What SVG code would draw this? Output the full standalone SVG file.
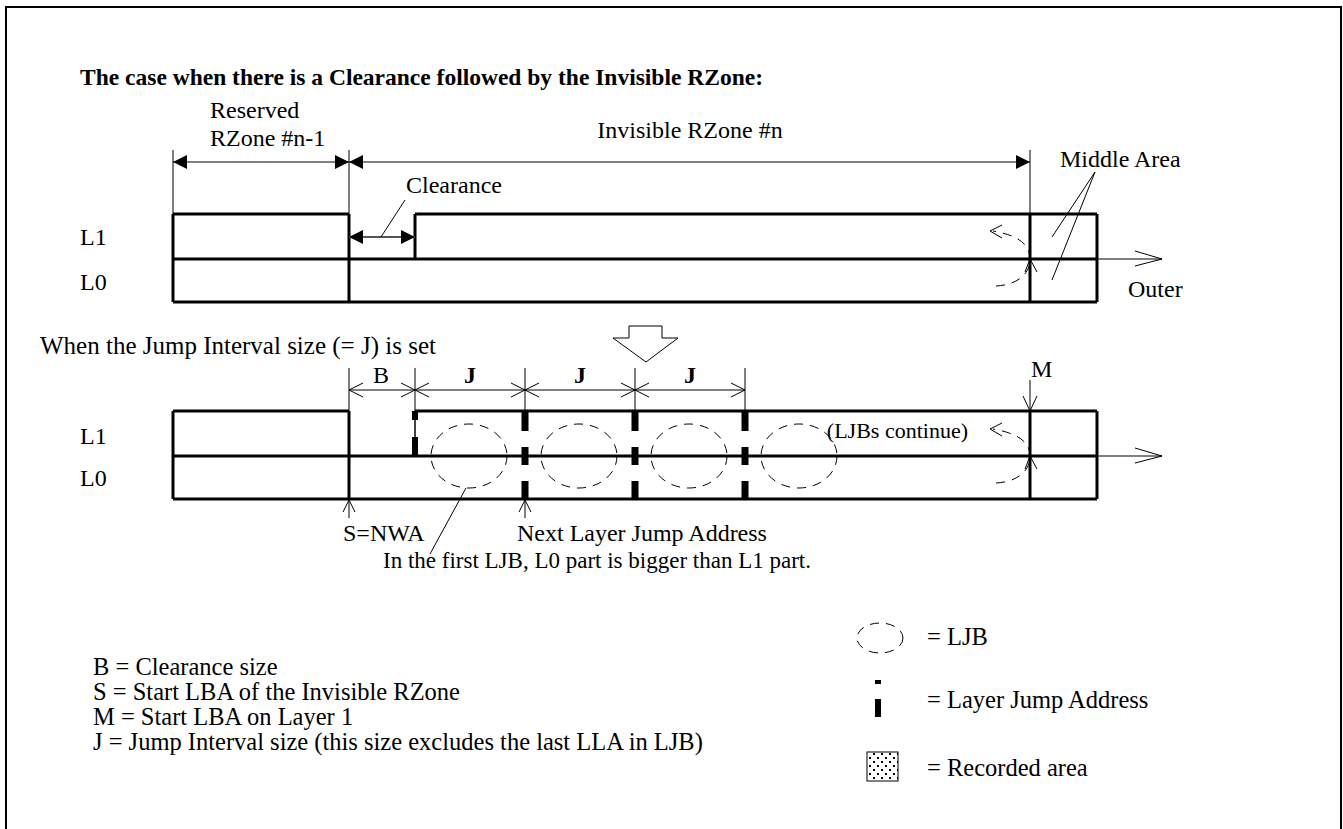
<svg xmlns="http://www.w3.org/2000/svg" width="1343" height="829" viewBox="0 0 1343 829">
<defs>
<style>
.t{font-family:"Liberation Serif","Times New Roman",serif;font-size:24px;fill:#000}
.lg{font-size:24.5px}
.b{font-weight:bold}
.k{stroke:#000;stroke-width:3;fill:none}
.n{stroke:#000;stroke-width:1;fill:none}
.d{stroke:#000;stroke-width:1;fill:none;stroke-dasharray:9,7}
.jm{fill:#000}
</style>
<marker id="sa" viewBox="0 0 14 14" refX="14" refY="7" markerWidth="14" markerHeight="14" markerUnits="userSpaceOnUse" orient="auto-start-reverse"><path d="M0,0 L14,7 L0,14 Z" fill="#000"/></marker>
<pattern id="dots" width="8" height="8" patternUnits="userSpaceOnUse"><rect x="1" y="1" width="2" height="2" fill="#000"/><rect x="5" y="5" width="2" height="2" fill="#000"/></pattern>
</defs>
<rect x="6" y="7" width="1335" height="830" fill="#fff" stroke="#000" stroke-width="2"/>
<text class="t b" x="80" y="85" style="font-size:23.5px">The case when there is a Clearance followed by the Invisible RZone:</text>

<g id="row1">
<g id="r1-labels">
<text class="t" x="210" y="118">Reserved</text>
<text class="t" x="210" y="146">RZone #n-1</text>
<text class="t" x="690" y="138" text-anchor="middle">Invisible RZone #n</text>
<text class="t" x="406" y="193">Clearance</text>
<text class="t" x="1060" y="167">Middle Area</text>
<text class="t" x="1128" y="297">Outer</text>
<text class="t" x="80" y="245">L1</text>
<text class="t" x="80" y="290">L0</text>
</g>
<g id="r1-disk">
<path class="k" d="M173,214 H349 M415,214 H1097 M173,259 H1097 M173,302 H1097 M173,214 V302 M349,214 V302 M415,214 V259 M1030,214 V302 M1097,214 V302"/>
</g>
</g>

<g id="row2">
<g id="r2-labels">
<text class="t" x="40" y="354" style="font-size:25px">When the Jump Interval size (= J) is set</text>
<text class="t" x="381" y="383" text-anchor="middle">B</text>
<text class="t b" x="470" y="383" text-anchor="middle">J</text>
<text class="t b" x="580" y="383" text-anchor="middle">J</text>
<text class="t b" x="690" y="383" text-anchor="middle">J</text>
<text class="t" x="1031" y="377">M</text>
<text class="t" x="968" y="438" text-anchor="end" style="font-size:22px">(LJBs continue)</text>
<text class="t" x="343" y="541">S=NWA</text>
<text class="t" x="517" y="541">Next Layer Jump Address</text>
<text class="t" x="383" y="568" style="font-size:23px">In the first LJB, L0 part is bigger than L1 part.</text>
<text class="t" x="80" y="444">L1</text>
<text class="t" x="80" y="486">L0</text>
</g>
<g id="r2-disk">
<path class="k" d="M173,411 H349 M415,411 H1097 M173,456 H1097 M173,499 H1097 M173,411 V499 M349,411 V499 M1030,411 V499 M1097,411 V499"/>
<path stroke="#000" stroke-width="1.5" d="M415,411 V456"/>
<rect class="jm" x="412" y="411" width="6" height="9"/>
<rect class="jm" x="412" y="437" width="6" height="19"/>
<rect class="jm" x="521.5" y="411" width="7" height="20"/>
<rect class="jm" x="521.5" y="447" width="7" height="18"/>
<rect class="jm" x="521.5" y="481" width="7" height="18"/>
<rect class="jm" x="631.5" y="411" width="7" height="20"/>
<rect class="jm" x="631.5" y="447" width="7" height="18"/>
<rect class="jm" x="631.5" y="481" width="7" height="18"/>
<rect class="jm" x="741.5" y="411" width="7" height="20"/>
<rect class="jm" x="741.5" y="447" width="7" height="18"/>
<rect class="jm" x="741.5" y="481" width="7" height="18"/>
</g>
<g id="ljb1"><ellipse class="d" cx="469" cy="456" rx="38" ry="32"/></g>
<g id="ljb2"><ellipse class="d" cx="579" cy="456" rx="38" ry="32"/></g>
<g id="ljb3"><ellipse class="d" cx="689" cy="456" rx="38" ry="32"/></g>
<g id="ljb4"><ellipse class="d" cx="799" cy="456" rx="38" ry="32"/></g>
</g>

<g id="transition-arrow">
<polygon class="n" points="629,326 662,326 662,338 678,338 646,362 613,338 629,338"/>
</g>

<g id="connectors">
<path class="n" d="M173,150 V214 M349,150 V214 M1030,150 V214"/>
<path class="n" d="M173,162 H349" marker-start="url(#sa)" marker-end="url(#sa)"/>
<path class="n" d="M349,162 H1030" marker-start="url(#sa)" marker-end="url(#sa)"/>
<path stroke="#555" stroke-width="2" fill="none" d="M349,237 H415" marker-start="url(#sa)" marker-end="url(#sa)"/>
<path class="n" d="M381,237 L405,200"/>
<path class="n" d="M1095,172 L1052,237 M1095,172 L1052,280"/>
<path class="n" d="M1097,259 H1162 M1135,251 L1162,259 L1135,266"/>
<path class="d" stroke-dasharray="7,6" d="M996,286 C1016,285 1030,275 1030,259 C1030,243 1016,235 993,231"/>
<path class="n" d="M1002,225 L990,231 L1002,238"/>
<path class="n" d="M1025,272 L1030,259 L1037,272"/>
<path class="n" d="M349,368 V411 M415,368 V411 M525,368 V411 M635,368 V411 M745,368 V411"/>
<path class="n" d="M349,390 H745"/>
<path class="n" d="M363,383 L349,390 L363,397 M401,383 L415,390 L401,397 M429,383 L415,390 L429,397 M511,383 L525,390 L511,397 M539,383 L525,390 L539,397 M621,383 L635,390 L621,397 M649,383 L635,390 L649,397 M731,383 L745,390 L731,397"/>
<path class="n" d="M1030,380 V411 M1023,396 L1030,411 L1037,396"/>
<path class="n" d="M1025,469 L1030,456 L1037,469"/>
<path class="n" d="M1097,456 H1162 M1135,448 L1162,456 L1135,463"/>
<path class="d" stroke-dasharray="7,6" d="M996,483 C1016,482 1030,472 1030,456 C1030,441 1016,433 993,429"/>
<path class="n" d="M1002,423 L990,429 L1002,436"/>
<path class="n" d="M349,518 V500 M343,512 L349,500 L355,512"/>
<path class="n" d="M525,518 V500 M519,512 L525,500 L531,512"/>
<path class="n" d="M466,488 L430,554"/>
</g>

<g id="legend">
<text class="t lg" x="93" y="675">B = Clearance size</text>
<text class="t lg" x="93" y="700">S = Start LBA of the Invisible RZone</text>
<text class="t lg" x="93" y="725">M = Start LBA on Layer 1</text>
<text class="t lg" x="93" y="750">J = Jump Interval size (this size excludes the last LLA in LJB)</text>
<g id="leg-ljb"><ellipse class="d" cx="880" cy="638" rx="23" ry="15" stroke-dasharray="8,10"/><text class="t lg" x="927" y="645">= LJB</text></g>
<g id="leg-lja"><rect class="jm" x="875" y="680" width="6" height="4"/><rect class="jm" x="875" y="699" width="6" height="18"/><text class="t lg" x="927" y="708">= Layer Jump Address</text></g>
<g id="leg-rec"><rect x="867" y="752" width="31" height="29" fill="url(#dots)" stroke="#000" stroke-width="1"/><text class="t lg" x="927" y="776">= Recorded area</text></g>
</g>
</svg>
